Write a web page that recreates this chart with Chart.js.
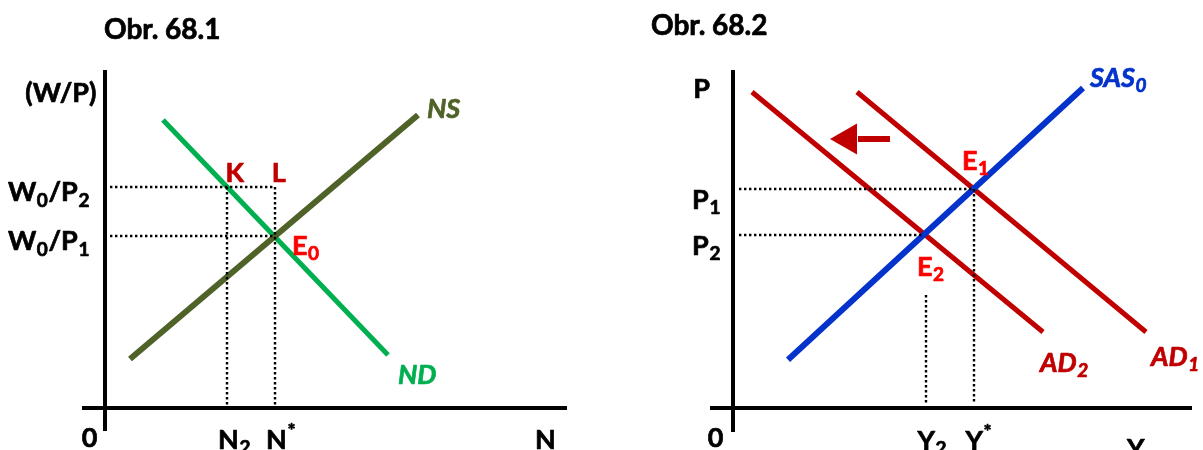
<!DOCTYPE html>
<html>
<head>
<meta charset="utf-8">
<script src="https://cdn.jsdelivr.net/npm/chart.js@4.4.1/dist/chart.umd.min.js"></script>
<style>
  html, body { margin: 0; padding: 0; background: #fff; overflow: hidden; }
  #wrap { display: flex; width: 1203px; height: 450px; }
  canvas { display: block; flex: none; }
</style>
</head>
<body>
<div id="wrap">
  <canvas id="labour" width="601" height="450"></canvas>
  <canvas id="output" width="602" height="450"></canvas>
</div>
<script>
// ---------- Obr. 68.1: labour market ----------
const nsQty = [2.5, 31.3];            // labour supply NS
const nsWage = [4.9, 29.3];
const ndQty = [5.8, 28.3];            // labour demand ND
const ndWage = [28.8, 5.3];
const wageLevels = [22.1, 17.2];      // W0/P2, W0/P1
const wageTickLabels = ['W_0/P_2', 'W_0/P_1'];
const employment = [12.2, 17.0];      // N2, N*
const employmentTickLabels = ['N_2', 'N^*'];

// ---------- Obr. 68.2: aggregate supply / demand ----------
const sasOutput = [5.5, 35.0];        // short-run aggregate supply SAS0
const sasPrice = [4.83, 32.0];
const ad1Output = [12.4, 41.3];       // AD1
const ad2Output = [1.9, 31.0];        // AD2
const adPrice = [31.6, 7.6];
const priceLevels = [21.9, 17.3];     // P1, P2
const priceTickLabels = ['P_1', 'P_2'];
const outputLevels = [24.1, 19.3];    // Y*, Y2
const outputTickLabels = ['Y^*', 'Y_2'];
const shiftArrowOutput = [15.7, 12.5, 11.5]; // tail, shaft end, head centre
const shiftArrowPrice = 26.9;

const FONT = 'Lato, "Open Sans", sans-serif';
const OLIVE = '#4F6228', GREEN = '#00B050', DARKRED = '#C00000', RED = '#FF0000', BLUE = '#0433CC';
const LABEL_SIZE = 27;

function pts(xs, ys) { return xs.map((x, i) => ({ x, y: ys[i] })); }

// split "W_0/P_2" / "N^*" into normal, subscript and superscript runs
function segs(str) {
  const out = [];
  for (let i = 0; i < str.length; i++) {
    const c = str[i];
    if ((c === '_' || c === '^') && i + 1 < str.length) {
      out.push({ t: str[i + 1], k: c === '_' ? 'sub' : 'sup' });
      i++;
    } else if (out.length && out[out.length - 1].k === 'n') {
      out[out.length - 1].t += c;
    } else {
      out.push({ t: c, k: 'n' });
    }
  }
  return out;
}

function drawRich(ctx, item, px, py) {
  const size = item.size || LABEL_SIZE;
  const style = (item.italic ? 'italic ' : '') + 'bold ';
  const parts = segs(item.text);
  const fontFor = k => style + Math.round(k === 'n' ? size : size * 0.72) + 'px ' + FONT;
  let w = 0;
  parts.forEach(p => { ctx.font = fontFor(p.k); p.w = ctx.measureText(p.t).width + 0.6; w += p.w; });
  let x0 = item.align === 'right' ? px - w : item.align === 'center' ? px - w / 2 : px;
  const base = py + size * 0.36;
  const color = item.color || '#000';
  ctx.fillStyle = color;
  ctx.strokeStyle = color;
  ctx.lineWidth = 0.7;
  ctx.lineJoin = 'round';
  ctx.textBaseline = 'alphabetic';
  ctx.textAlign = 'left';
  parts.forEach(p => {
    ctx.font = fontFor(p.k);
    const dy = p.k === 'sub' ? size * 0.2 : p.k === 'sup' ? -size * 0.42 : 0;
    ctx.fillText(p.t, x0, base + dy);
    ctx.strokeText(p.t, x0, base + dy);
    x0 += p.w;
  });
}

function textPlugin(items) {
  return {
    id: 'diagramText',
    afterDatasetsDraw(chart) {
      const { ctx, scales: { x, y } } = chart;
      ctx.save();
      items.forEach(it => drawRich(ctx, it, x.getPixelForValue(it.u), y.getPixelForValue(it.v)));
      ctx.restore();
    }
  };
}

function line(data, color, width, order, dash) {
  return {
    data, showLine: true, borderColor: color, borderWidth: width,
    borderDash: dash || [], borderCapStyle: 'butt', pointRadius: 0,
    fill: false, tension: 0, order
  };
}

function baseOptions(xMin, xMax) {
  return {
    responsive: false,
    animation: false,
    events: [],
    layout: { padding: 0, autoPadding: false },
    plugins: { legend: { display: false }, tooltip: { enabled: false } },
    scales: {
      x: { type: 'linear', display: false, min: xMin, max: xMax },
      y: { type: 'linear', display: false, min: -4.2, max: 40.8 }
    }
  };
}

const DOT = [2.4, 2.6];
const DOT_W = 2.4;

// ---------- labour market chart ----------
const labourSets = [
  line([{ x: -2.3, y: 0 }, { x: 46.2, y: 0 }], '#000', 4, 3),
  line([{ x: 0, y: -2.3 }, { x: 0, y: 33.8 }], '#000', 4, 3),
  line(pts(ndQty, ndWage), GREEN, 5, 2),
  line(pts(nsQty, nsWage), OLIVE, 6, 1)
];
wageLevels.forEach(w => labourSets.push(line([{ x: 0.5, y: w }, { x: employment[1], y: w }], '#000', DOT_W, 0, DOT)));
employment.forEach(n => labourSets.push(line([{ x: n, y: wageLevels[0] }, { x: n, y: 0.3 }], '#000', DOT_W, 0, DOT)));

const labourText = [
  { text: 'Obr. 68.1', u: -0.1, v: 37.9, align: 'left', size: 28 },
  { text: '(W/P)', u: -0.8, v: 31.6, align: 'right' },
  { text: '0', u: -1.5, v: -2.9, align: 'center' },
  { text: 'N', u: 43.0, v: -3.1, align: 'left' },
  { text: 'K', u: 13.0, v: 23.6, align: 'center', color: DARKRED },
  { text: 'L', u: 17.4, v: 23.6, align: 'center', color: DARKRED },
  { text: 'E_0', u: 18.7, v: 16.3, align: 'left', color: RED },
  { text: 'NS', u: 32.2, v: 30.0, align: 'left', color: OLIVE, italic: true },
  { text: 'ND', u: 29.3, v: 3.4, align: 'left', color: GREEN, italic: true }
];
wageLevels.forEach((w, i) => labourText.push({ text: wageTickLabels[i], u: -1.5, v: w - 0.45, align: 'right' }));
employment.forEach((n, i) => labourText.push({ text: employmentTickLabels[i], u: n - 0.9, v: -3.1, align: 'left' }));

new Chart(document.getElementById('labour'), {
  type: 'scatter',
  data: { datasets: labourSets },
  options: baseOptions(-10.5, 49.6),
  plugins: [textPlugin(labourText)]
});

// ---------- aggregate supply / demand chart ----------
const outputSets = [
  line([{ x: -2.3, y: 0 }, { x: 45.9, y: 0 }], '#000', 4, 3),
  line([{ x: 0, y: -2.4 }, { x: 0, y: 33.8 }], '#000', 4, 3),
  line(pts(ad2Output, adPrice), DARKRED, 5, 2),
  line(pts(ad1Output, adPrice), DARKRED, 5, 2),
  line(pts(sasOutput, sasPrice), BLUE, 6, 1),
  line([{ x: shiftArrowOutput[0], y: shiftArrowPrice }, { x: shiftArrowOutput[1], y: shiftArrowPrice }], DARKRED, 6, 1),
  {
    data: [{ x: shiftArrowOutput[2], y: shiftArrowPrice }], showLine: false,
    pointStyle: 'triangle', rotation: -90, pointRadius: 18, pointBorderWidth: 0,
    pointBackgroundColor: DARKRED, pointBorderColor: DARKRED, order: 1
  },
  line([{ x: 0.6, y: priceLevels[0] }, { x: outputLevels[0], y: priceLevels[0] }], '#000', DOT_W, 0, DOT),
  line([{ x: 0.6, y: priceLevels[1] }, { x: outputLevels[1] - 0.2, y: priceLevels[1] }], '#000', DOT_W, 0, DOT),
  line([{ x: outputLevels[0], y: priceLevels[0] }, { x: outputLevels[0], y: 0.5 }], '#000', DOT_W, 0, DOT),
  line([{ x: outputLevels[1], y: 11.3 }, { x: outputLevels[1], y: 0.5 }], '#000', DOT_W, 0, DOT)
];

const outputText = [
  { text: 'Obr. 68.2', u: -8.2, v: 38.3, align: 'left', size: 28 },
  { text: 'P', u: -3.1, v: 32.0, align: 'center' },
  { text: '0', u: -1.7, v: -2.9, align: 'center' },
  { text: 'Y', u: 39.4, v: -4.0, align: 'left' },
  { text: 'E_1', u: 22.9, v: 24.8, align: 'left', color: RED },
  { text: 'E_2', u: 18.4, v: 14.2, align: 'left', color: RED },
  { text: 'SAS_0', u: 35.7, v: 33.1, align: 'left', color: BLUE, italic: true },
  { text: 'AD_2', u: 30.7, v: 4.6, align: 'left', color: DARKRED, italic: true },
  { text: 'AD_1', u: 41.8, v: 5.2, align: 'left', color: DARKRED, italic: true }
];
priceLevels.forEach((p, i) => outputText.push({ text: priceTickLabels[i], u: -1.2, v: p - 1.0, align: 'right' }));
outputLevels.forEach((y, i) => outputText.push({ text: outputTickLabels[i], u: y - 0.85, v: -3.2, align: 'left' }));

new Chart(document.getElementById('output'), {
  type: 'scatter',
  data: { datasets: outputSets },
  options: baseOptions(-13.2, 47.0),
  plugins: [textPlugin(outputText)]
});
</script>
</body>
</html>
